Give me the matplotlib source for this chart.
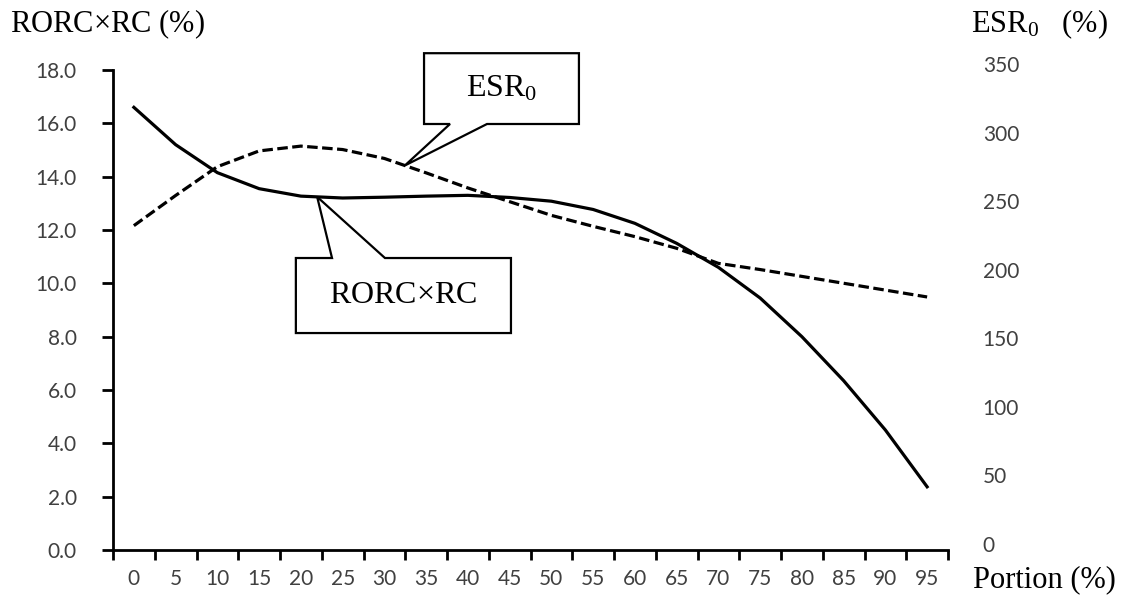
import matplotlib
matplotlib.use('Agg')
import numpy as np
import matplotlib.pyplot as plt
from matplotlib.patches import Polygon
from matplotlib.transforms import ScaledTranslation

plt.rcParams['mathtext.fontset'] = 'custom'
plt.rcParams['mathtext.rm'] = 'Liberation Serif'
plt.rcParams['mathtext.it'] = 'Liberation Serif:italic'

# portion of capital (%) on the category axis
portion = [0, 5, 10, 15, 20, 25, 30, 35, 40, 45, 50, 55, 60, 65, 70, 75, 80, 85, 90, 95]
# RORC x RC (%), left axis
rorc_rc = [16.6, 15.2, 14.15, 13.55, 13.27, 13.2, 13.23, 13.27, 13.3, 13.22,
           13.08, 12.77, 12.25, 11.5, 10.6, 9.45, 8.0, 6.35, 4.5, 2.37]
# ESR0 (%), right axis
esr0 = [236.5, 258.5, 279.5, 291, 294.5, 292, 285.5, 275, 264, 254,
        244, 236, 228.5, 220, 209, 204.5, 199.5, 194.5, 189.5, 184.5]

tick_font = 'Lato'
serif = 'Liberation Serif'
grey = '#404040'

fig = plt.figure(figsize=(11.26, 5.98), dpi=100)
ax = fig.add_axes([113 / 1126, 48 / 598, 835 / 1126, 480 / 598])
x = np.arange(len(portion))

ax.plot(x, rorc_rc, color='black', lw=2.3, solid_joinstyle='round')
ax.set_xlim(-0.5, len(portion) - 0.5)
ax.set_ylim(0, 18)
ax.set_yticks(np.arange(0, 18.1, 2))
ax.set_yticklabels([f'{v:.1f}' for v in np.arange(0, 18.1, 2)])
ax.set_xticks(x)
ax.set_xticklabels([str(p) for p in portion])
ax.set_xticks(np.arange(-0.5, len(portion)), minor=True)
ax.tick_params(axis='x', which='major', length=0, pad=14, labelsize=15,
               labelcolor=grey)
ax.tick_params(axis='x', which='minor', length=7, width=2, direction='out')
ax.tick_params(axis='y', length=8, width=2, direction='out', pad=18,
               labelsize=15, labelcolor=grey)
for lab in ax.get_xticklabels() + ax.get_yticklabels():
    lab.set_fontfamily(tick_font)
for side in ['top', 'right']:
    ax.spines[side].set_visible(False)
for side in ['left', 'bottom']:
    ax.spines[side].set_linewidth(2)

ax2 = ax.twinx()
ax2.plot(x, esr0, color='black', lw=2.3, linestyle=(0, (3.3, 1.4)))
ax2.set_ylim(0, 350)
ax2.set_yticks(np.arange(0, 351, 50))
ax2.tick_params(axis='y', length=0, pad=25, labelsize=15, labelcolor=grey)
for lab in ax2.get_yticklabels():
    lab.set_fontfamily(tick_font)
    lab.set_horizontalalignment('left')
    lab.set_transform(lab.get_transform() + ScaledTranslation(0, 0.06, fig.dpi_scale_trans))
for side in ax2.spines:
    ax2.spines[side].set_visible(False)

# axis titles
fig.text(10 / 1126, 1 - 24 / 598, r'RORC$\times$RC (%)', family=serif, fontsize=22,
         ha='left', va='center')
fig.text(971 / 1126, 1 - 24 / 598, r'$\mathrm{ESR}_0$   (%)', family=serif,
         fontsize=22, ha='left', va='center')
fig.text(1116 / 1126, 1 - 580 / 598, 'Portion (%)', family=serif, fontsize=22,
         ha='right', va='center')


def callout(axis, tip_idx, values, box, base, text, below):
    # box: (x0, x1, y0, y1) in axes fraction; base: pointer root x positions
    tip_val = np.interp(tip_idx, x, values)
    tip = (axis.transAxes.inverted()
           .transform(axis.transData.transform((tip_idx, tip_val))))
    x0, x1, y0, y1 = box
    b1, b2 = base
    if below:
        # pointer leaves the top edge of the box
        verts = [(x0, y0), (x1, y0), (x1, y1), (b2, y1), tip, (b1, y1), (x0, y1)]
    else:
        verts = [(x0, y1), (x1, y1), (x1, y0), (b2, y0), tip, (b1, y0), (x0, y0)]
    poly = Polygon(verts, closed=True, transform=axis.transAxes, facecolor='white',
                   edgecolor='black', lw=1.6, clip_on=False, zorder=5,
                   joinstyle='miter')
    axis.add_patch(poly)
    axis.text((x0 + x1) / 2, (y0 + y1) / 2, text, transform=axis.transAxes,
              family=serif, fontsize=23, ha='center', va='center', zorder=6)


callout(ax2, 6.49, esr0, (0.3725, 0.558, 0.8875, 1.035), (0.4036, 0.4479),
        r'$\mathrm{ESR}_0$', below=False)
callout(ax, 4.39, rorc_rc, (0.219, 0.4766, 0.452, 0.6083), (0.2623, 0.3257),
        r'RORC$\times$RC', below=True)

fig.savefig('out.png', dpi=100)
